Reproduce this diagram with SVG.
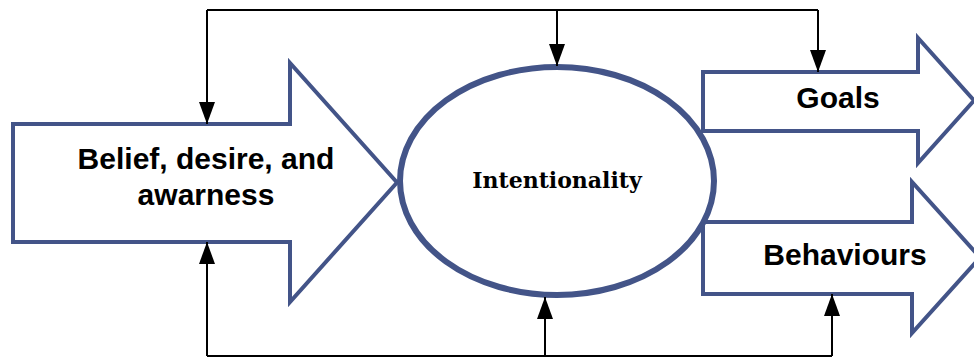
<svg xmlns="http://www.w3.org/2000/svg" width="974" height="358" viewBox="0 0 974 358">
  <style>
    .shape { fill: #ffffff; stroke: #435488; stroke-width: 4; stroke-linejoin: miter; }
    .oval { fill: #ffffff; stroke: #435488; stroke-width: 6; }
    .label { font-family: "Liberation Sans", Arial, sans-serif; font-weight: bold; font-size: 30px; fill: #000000; text-anchor: middle; }
    .serif { font-family: "DejaVu Serif", "Liberation Serif", serif; font-weight: bold; font-size: 22px; fill: #000000; text-anchor: middle; }
    .link { fill: none; stroke: #000000; stroke-width: 2; }
  </style>
  <defs>
    <marker id="head" markerUnits="userSpaceOnUse" markerWidth="22" markerHeight="16" refX="22" refY="8" orient="auto">
      <path d="M0,0 L22,8 L0,16 Z" fill="#000000"/>
    </marker>
  </defs>

  <rect width="974" height="358" fill="#ffffff"/>

  <!-- block arrow: input -->
  <g id="node-belief">
    <path class="shape" d="M13,124 H290 V63 L397,182.5 L290,302 V242 H13 Z"/>
    <text class="label" x="206" y="169">Belief, desire, and</text>
    <text class="label" x="206" y="205">awarness</text>
  </g>

  <!-- block arrow: goals -->
  <g id="node-goals">
    <path class="shape" d="M703,72 H918 V38 L974,100.5 L918,163 V131 H703 Z"/>
    <text class="label" x="838" y="108">Goals</text>
  </g>

  <!-- block arrow: behaviours -->
  <g id="node-behaviours">
    <path class="shape" d="M703,222 H912 V182 L980,257.5 L912,333 V294 H703 Z"/>
    <text class="label" x="845" y="265">Behaviours</text>
  </g>

  <!-- central ellipse -->
  <g id="node-intentionality">
    <ellipse class="oval" cx="557" cy="181" rx="157" ry="114"/>
    <text class="serif" x="557" y="188">Intentionality</text>
  </g>

  <!-- feedback connectors -->
  <g id="connectors">
    <path class="link" d="M207,10 H818"/>
    <path class="link" d="M207,10 V124" marker-end="url(#head)"/>
    <path class="link" d="M557,10 V66" marker-end="url(#head)"/>
    <path class="link" d="M818,10 V72" marker-end="url(#head)"/>
    <path class="link" d="M207,356 H832"/>
    <path class="link" d="M207,356 V242" marker-end="url(#head)"/>
    <path class="link" d="M545,356 V297" marker-end="url(#head)"/>
    <path class="link" d="M832,356 V294" marker-end="url(#head)"/>
  </g>
</svg>
